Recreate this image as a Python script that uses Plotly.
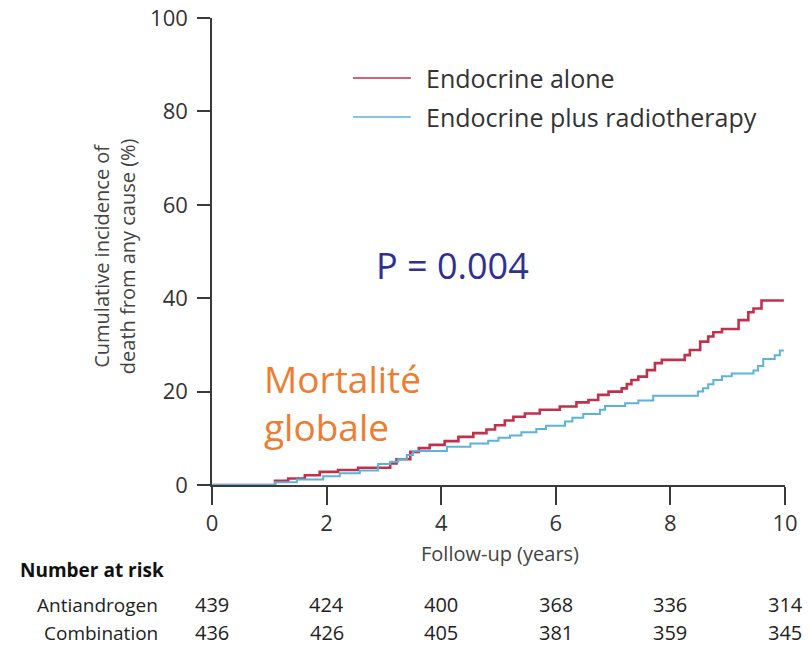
import plotly.graph_objects as go

# Cumulative incidence step points (years, %)
alone_t = [0, 1.10, 1.33, 1.62, 1.88, 2.20, 2.55, 3.11, 3.22, 3.46, 3.61, 3.80, 4.06, 4.30,
           4.56, 4.79, 4.94, 5.11, 5.26, 5.46, 5.72, 6.07, 6.36, 6.57, 6.74, 6.92, 7.15,
           7.24, 7.32, 7.44, 7.59, 7.73, 7.85, 8.25, 8.34, 8.52, 8.66, 8.75, 8.90, 9.19,
           9.36, 9.45, 9.59, 9.98]
alone_y = [0, 0.9, 1.4, 2.1, 2.8, 3.2, 3.7, 4.6, 5.5, 7.1, 7.9, 8.6, 9.4, 10.3,
           11.1, 11.9, 12.8, 13.8, 14.6, 15.3, 16.1, 16.8, 17.7, 18.2, 19.3, 20.0, 20.7,
           21.6, 22.5, 23.2, 24.6, 26.1, 26.8, 27.8, 28.9, 30.7, 31.8, 32.7, 33.4, 35.3,
           37.0, 37.8, 39.5, 39.5]

combo_t = [0, 1.10, 1.48, 1.94, 2.23, 2.58, 2.90, 3.11, 3.25, 3.40, 3.51, 4.10, 4.51, 4.82,
           5.00, 5.20, 5.40, 5.66, 5.83, 6.16, 6.29, 6.48, 6.77, 6.86, 7.21, 7.44, 7.70,
           8.48, 8.57, 8.66, 8.75, 8.90, 9.07, 9.45, 9.53, 9.62, 9.82, 9.91, 9.98]
combo_y = [0, 0.6, 1.2, 1.9, 2.5, 3.1, 4.5, 5.0, 5.5, 6.4, 7.3, 8.2, 8.9, 9.5,
           10.1, 10.6, 11.3, 12.0, 12.7, 13.6, 14.4, 15.2, 16.1, 16.9, 17.5, 18.1, 19.1,
           20.0, 20.7, 21.6, 22.5, 23.3, 23.9, 24.5, 25.5, 27.0, 27.8, 28.8, 28.8]

# Number at risk table
risk_years = [0, 2, 4, 6, 8, 10]
risk_antiandrogen = [439, 424, 400, 368, 336, 314]
risk_combination = [436, 426, 405, 381, 359, 345]

series_names = ["Endocrine alone", "Endocrine plus radiotherapy"]
RED = "#c0324c"
BLUE = "#5cb2d8"
INK = "#333333"
FONT = "Open Sans"

fig = go.Figure()
fig.add_trace(go.Scatter(x=alone_t, y=alone_y, mode="lines", line_shape="hv",
                         line=dict(color=RED, width=2.6), name=series_names[0],
                         showlegend=False))
fig.add_trace(go.Scatter(x=combo_t, y=combo_y, mode="lines", line_shape="hv",
                         line=dict(color=BLUE, width=2.0), name=series_names[1],
                         showlegend=False))

ann = []
shapes = []

# Legend keys
for i, (name, col) in enumerate(zip(series_names, [RED, BLUE])):
    yk = 0.8715 - i * 0.0835
    shapes.append(dict(type="line", xref="paper", yref="paper", x0=0.246, x1=0.347,
                       y0=yk, y1=yk, line=dict(color=col, width=1.6)))
    ann.append(dict(xref="paper", yref="paper", x=0.370, y=yk, text=name,
                    xanchor="left", yanchor="middle", showarrow=False,
                    font=dict(family=FONT, size=25, color=INK)))

# Y-axis title
ann.append(dict(xref="paper", yref="paper", x=-0.171, y=0.49,
                text="Cumulative incidence of<br>death from any cause (%)",
                textangle=-90, showarrow=False, xanchor="center", yanchor="middle",
                font=dict(family=FONT, size=20, color="#444444")))

# X-axis title
ann.append(dict(xref="paper", yref="paper", x=0.5026, y=-0.146, text="Follow-up (years)",
                showarrow=False, xanchor="center", yanchor="middle",
                font=dict(family=FONT, size=20, color="#444444")))

# P value and title text
ann.append(dict(xref="paper", yref="paper", x=0.419, y=0.471, text="P = 0.004",
                showarrow=False, xanchor="center", yanchor="middle",
                font=dict(family=FONT, size=36, color="#2e3192")))
ann.append(dict(xref="paper", yref="paper", x=0.088, y=0.177,
                text="Mortalité<br>globale", align="left",
                showarrow=False, xanchor="left", yanchor="middle",
                font=dict(family=FONT, size=37, color="#ed7d31")))

# Number at risk table
ann.append(dict(xref="paper", yref="paper", x=-0.339, y=-0.181, text="<b>Number at risk</b>",
                showarrow=False, xanchor="left", yanchor="middle",
                font=dict(family=FONT, size=19, color="#111111")))
for label, vals, yy in [("Antiandrogen", risk_antiandrogen, -0.256),
                        ("Combination", risk_combination, -0.316)]:
    ann.append(dict(xref="paper", yref="paper", x=-0.090, y=yy, text=label,
                    showarrow=False, xanchor="right", yanchor="middle",
                    font=dict(family=FONT, size=19, color="#222222")))
    for yr, v in zip(risk_years, vals):
        ann.append(dict(xref="x", yref="paper", x=yr, y=yy, text=str(v),
                        showarrow=False, xanchor="center", yanchor="middle",
                        font=dict(family=FONT, size=20, color="#222222")))

fig.update_layout(
    width=808, height=648,
    margin=dict(l=212, r=23, t=18, b=163),
    paper_bgcolor="white", plot_bgcolor="white",
    showlegend=False,
    annotations=ann, shapes=shapes,
    xaxis=dict(range=[0, 10], tickvals=[0, 2, 4, 6, 8, 10], showgrid=False,
               zeroline=False, showline=True, linecolor="#3a3a3a", linewidth=1.5,
               ticks="outside", ticklen=18, tickwidth=1.5, tickcolor="#3a3a3a",
               automargin=False,
               tickfont=dict(family=FONT, size=22, color=INK)),
    yaxis=dict(range=[0, 100], tickvals=[0, 20, 40, 60, 80, 100], showgrid=False,
               zeroline=False, showline=True, linecolor="#3a3a3a", linewidth=1.5,
               ticks="outside", ticklen=13, tickwidth=1.5, tickcolor="#3a3a3a",
               automargin=False, ticklabelstandoff=5,
               tickfont=dict(family=FONT, size=22, color=INK)),
)

fig.write_html("out.html")
